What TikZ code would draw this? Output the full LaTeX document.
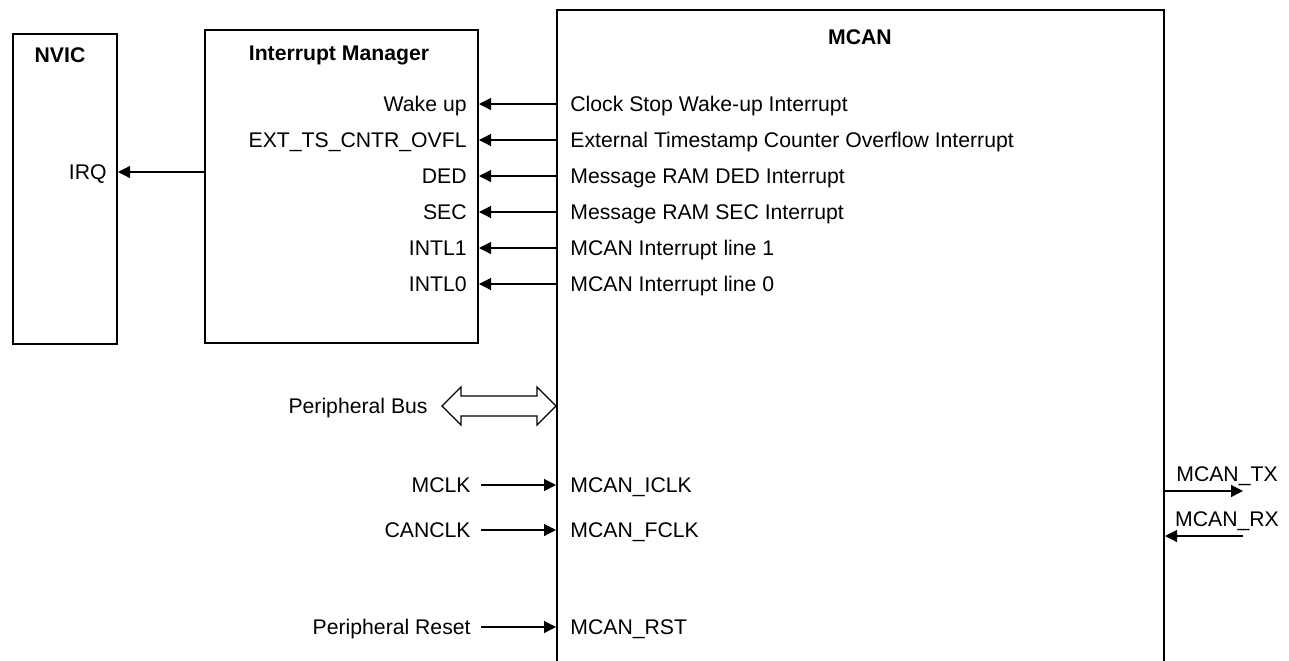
\documentclass[tikz,border=0pt]{standalone}
\usepackage{fontspec}
\setmainfont{Liberation Sans}
\usepackage{tikz}
\usetikzlibrary{arrows.meta,positioning,calc}
\newcommand{\sz}{\fontsize{10.6}{12.7}\selectfont}

\begin{document}
\begin{tikzpicture}[x=0.5pt,y=-0.5pt,font=\sz,
  blk/.style={draw,line width=1pt,inner sep=0pt,anchor=north west},
  ttl/.style={font=\sz\bfseries,inner sep=0pt},
  lbl/.style={inner sep=0pt,text height=7.6pt,text depth=0pt},
  sig/.style={-{Triangle[length=6pt,width=6pt]},line width=0.6pt}]
  \useasboundingbox (0,0) rectangle (1289,660);
  \clip (0,0) rectangle (1289,660);
  % blocks
  \node[blk,minimum width=52pt,minimum height=155pt] (nvic) at (12,33) {};
  \node[blk,minimum width=136.5pt,minimum height=156.5pt] (im) at (204,29) {};
  \node[blk,minimum width=303.5pt,minimum height=350pt] (mcan) at (556,9) {};
  \node[ttl] (nvicname) at (60,55) {NVIC};
  \node[ttl] (imname) at (339,55) {Interrupt Manager};
  \node[ttl] (mcanname) at (860,37) {MCAN};
  % interrupt lines
  \foreach \i/\y/\a/\b in {1/104/Wake up/Clock Stop Wake-up Interrupt,
      2/140/EXT\_TS\_CNTR\_OVFL/External Timestamp Counter Overflow Interrupt,
      3/176/DED/Message RAM DED Interrupt,
      4/212/SEC/Message RAM SEC Interrupt,
      5/248/INTL1/MCAN Interrupt line 1,
      6/284/INTL0/MCAN Interrupt line 0} {
    \node[lbl,anchor=east] (im\i) at (467,\y) {\a};
    \node[lbl,anchor=west] (mc\i) at (570,\y) {\b};
    \draw[sig] (mcan.west |- mc\i) -- (im.east |- im\i);
  }
  \node[lbl,anchor=east] (irq) at (107,172) {IRQ};
  \draw[sig] (im.west |- irq) -- (nvic.east |- irq);
  % bus
  \node[lbl,anchor=east] (bus) at (428,406) {Peripheral Bus};
  \draw[line width=0.6pt] (mcan.west |- bus) -- ++(-19,-19) -- ++(0,9) -- ++(-76,0)
    -- ++(0,-9) -- ++(-19,19) -- ++(19,19) -- ++(0,-9) -- ++(76,0) -- ++(0,9) -- cycle;
  % clocks and reset
  \foreach \i/\y/\a/\b in {1/485/MCLK/MCAN\_ICLK,2/530/CANCLK/MCAN\_FCLK,
      3/627/Peripheral Reset/MCAN\_RST} {
    \node[lbl,anchor=east] (src\i) at (471,\y) {\a};
    \node[lbl,anchor=west] (pin\i) at (570,\y) {\b};
    \draw[sig] ([xshift=5pt]src\i.east) -- (mcan.west |- pin\i);
  }
  % can pins
  \node[lbl] (tx) at (1227,474) {MCAN\_TX};
  \node[lbl] (rx) at (1227,519) {MCAN\_RX};
  \coordinate (txend) at (1243,491);
  \coordinate (rxend) at (1243,536);
  \draw[sig] (mcan.east |- txend) -- (txend);
  \draw[sig] (rxend) -- (mcan.east |- rxend);
\end{tikzpicture}
\end{document}
